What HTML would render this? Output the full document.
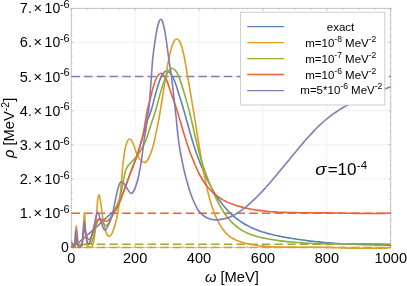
<!DOCTYPE html><html><head><meta charset="utf-8"><title>plot</title>
<style>html,body{margin:0;padding:0;background:#fff}body{width:407px;height:286px;overflow:hidden}svg{display:block;will-change:transform}text{font-family:"Liberation Sans",sans-serif;fill:#000}</style></head><body>
<svg width="407" height="286" viewBox="0 0 407 286">
<rect width="407" height="286" fill="#fff"/>
<path d="M135.1 8.3V247.3M199.0 8.3V247.3M263.0 8.3V247.3M326.9 8.3V247.3M71.2 213.2H390.8M71.2 179.0H390.8M71.2 144.9H390.8M71.2 110.7H390.8M71.2 76.6H390.8M71.2 42.4H390.8" stroke="#efefef" stroke-width="0.8" fill="none"/>
<rect x="71.2" y="8.3" width="319.6" height="239.0" fill="none" stroke="#b0b0b0" stroke-width="0.75"/>
<path d="M71.2 247.3v-2.2M71.2 8.3v2.2M87.2 247.3v-1.3M87.2 8.3v1.3M103.2 247.3v-1.3M103.2 8.3v1.3M119.1 247.3v-1.3M119.1 8.3v1.3M135.1 247.3v-2.2M135.1 8.3v2.2M151.1 247.3v-1.3M151.1 8.3v1.3M167.1 247.3v-1.3M167.1 8.3v1.3M183.1 247.3v-1.3M183.1 8.3v1.3M199.0 247.3v-2.2M199.0 8.3v2.2M215.0 247.3v-1.3M215.0 8.3v1.3M231.0 247.3v-1.3M231.0 8.3v1.3M247.0 247.3v-1.3M247.0 8.3v1.3M263.0 247.3v-2.2M263.0 8.3v2.2M278.9 247.3v-1.3M278.9 8.3v1.3M294.9 247.3v-1.3M294.9 8.3v1.3M310.9 247.3v-1.3M310.9 8.3v1.3M326.9 247.3v-2.2M326.9 8.3v2.2M342.9 247.3v-1.3M342.9 8.3v1.3M358.8 247.3v-1.3M358.8 8.3v1.3M374.8 247.3v-1.3M374.8 8.3v1.3M390.8 247.3v-2.2M390.8 8.3v2.2M71.2 247.3h2.2M390.8 247.3h-2.2M71.2 240.5h1.3M390.8 240.5h-1.3M71.2 233.6h1.3M390.8 233.6h-1.3M71.2 226.8h1.3M390.8 226.8h-1.3M71.2 220.0h1.3M390.8 220.0h-1.3M71.2 213.2h2.2M390.8 213.2h-2.2M71.2 206.3h1.3M390.8 206.3h-1.3M71.2 199.5h1.3M390.8 199.5h-1.3M71.2 192.7h1.3M390.8 192.7h-1.3M71.2 185.8h1.3M390.8 185.8h-1.3M71.2 179.0h2.2M390.8 179.0h-2.2M71.2 172.2h1.3M390.8 172.2h-1.3M71.2 165.4h1.3M390.8 165.4h-1.3M71.2 158.5h1.3M390.8 158.5h-1.3M71.2 151.7h1.3M390.8 151.7h-1.3M71.2 144.9h2.2M390.8 144.9h-2.2M71.2 138.0h1.3M390.8 138.0h-1.3M71.2 131.2h1.3M390.8 131.2h-1.3M71.2 124.4h1.3M390.8 124.4h-1.3M71.2 117.6h1.3M390.8 117.6h-1.3M71.2 110.7h2.2M390.8 110.7h-2.2M71.2 103.9h1.3M390.8 103.9h-1.3M71.2 97.1h1.3M390.8 97.1h-1.3M71.2 90.2h1.3M390.8 90.2h-1.3M71.2 83.4h1.3M390.8 83.4h-1.3M71.2 76.6h2.2M390.8 76.6h-2.2M71.2 69.8h1.3M390.8 69.8h-1.3M71.2 62.9h1.3M390.8 62.9h-1.3M71.2 56.1h1.3M390.8 56.1h-1.3M71.2 49.3h1.3M390.8 49.3h-1.3M71.2 42.4h2.2M390.8 42.4h-2.2M71.2 35.6h1.3M390.8 35.6h-1.3M71.2 28.8h1.3M390.8 28.8h-1.3M71.2 22.0h1.3M390.8 22.0h-1.3M71.2 15.1h1.3M390.8 15.1h-1.3M71.2 8.3h2.2M390.8 8.3h-2.2" stroke="#a8a8a8" stroke-width="0.7" fill="none"/>
<defs><clipPath id="c"><rect x="71.2" y="7.3" width="319.6" height="241.6"/></clipPath></defs>
<g clip-path="url(#c)" fill="none" stroke-width="1.6" stroke-linejoin="round">
<path d="M71.4 76.6H390.8" stroke="#8778B3" stroke-dasharray="8.5 4.2" stroke-width="1.5"/>
<path d="M71.4 213.2H390.8" stroke="#EB6235" stroke-dasharray="8.5 4.2" stroke-width="1.5"/>
<path d="M71.4 244.3H390.8" stroke="#8FB032" stroke-dasharray="8.5 4.2" stroke-width="1.5"/>
<path d="M71.4 247.6H390.8" stroke="#E19C24" stroke-dasharray="8.5 4.2" stroke-width="1.5"/>
<path d="M71.2 247.3C71.7 247.1 73.0 246.6 74.0 246.0C75.0 245.4 75.9 244.8 77.2 243.7C78.5 242.6 80.2 241.1 82.0 239.6C83.8 238.1 86.2 236.0 88.0 234.5C89.8 233.0 91.1 231.9 92.6 230.6C94.1 229.3 95.5 227.9 97.0 226.5C98.5 225.1 100.3 223.3 101.8 221.9C103.3 220.5 104.5 219.4 106.0 218.0C107.5 216.6 109.6 214.9 111.1 213.5C112.6 212.1 113.8 211.1 115.1 209.3C116.4 207.5 117.6 205.5 119.0 202.7C120.4 199.8 122.0 195.5 123.3 192.2C124.6 188.9 125.7 185.8 126.8 182.7C127.9 179.6 129.0 176.6 130.2 173.5C131.4 170.4 132.6 167.3 133.8 164.2C135.0 161.1 136.2 157.8 137.2 154.8C138.2 151.8 139.0 149.2 140.0 146.0C141.0 142.8 142.1 138.7 143.0 135.5C143.9 132.3 144.7 129.8 145.5 127.0C146.3 124.2 147.0 121.8 148.0 119.0C149.0 116.2 150.1 113.8 151.3 110.0C152.5 106.2 153.8 100.3 155.0 96.0C156.2 91.7 157.3 87.5 158.5 84.0C159.7 80.5 160.6 77.2 162.0 75.0C163.4 72.8 165.2 70.9 166.7 70.7C168.2 70.5 169.6 72.1 171.0 74.0C172.4 75.9 173.6 78.3 175.0 82.0C176.4 85.7 178.0 91.1 179.5 96.0C181.0 100.9 182.9 106.9 184.2 111.5C185.5 116.1 186.4 119.6 187.5 123.5C188.6 127.4 189.3 130.2 190.7 135.0C192.1 139.8 194.2 146.8 196.0 152.0C197.8 157.2 199.7 162.0 201.5 166.5C203.3 171.0 205.0 174.9 207.0 179.0C209.0 183.1 212.0 188.6 213.3 191.0C214.6 193.4 214.1 192.2 215.0 193.7C215.9 195.1 217.7 197.9 219.0 199.8C220.3 201.6 221.7 203.4 223.0 205.1C224.3 206.7 225.7 208.3 227.0 209.7C228.3 211.1 229.7 212.5 231.0 213.8C232.3 215.0 233.7 216.2 235.0 217.3C236.3 218.4 237.7 219.4 239.0 220.4C240.3 221.3 241.7 222.2 243.0 223.0C244.3 223.9 245.7 224.6 247.0 225.3C248.3 226.1 249.7 226.7 251.0 227.4C252.3 228.0 253.7 228.6 255.0 229.2C256.3 229.7 257.7 230.2 259.0 230.7C260.3 231.2 261.7 231.6 263.0 232.1C264.3 232.5 265.7 232.9 267.0 233.2C268.3 233.6 269.7 234.0 271.0 234.3C272.3 234.6 273.7 234.9 275.0 235.2C276.3 235.6 277.7 235.8 279.0 236.1C280.3 236.4 281.7 236.6 283.0 236.9C284.3 237.1 285.7 237.4 287.0 237.6C288.3 237.8 289.7 238.0 291.0 238.2C292.3 238.5 293.7 238.7 295.0 238.9C296.3 239.1 297.7 239.3 299.0 239.5C300.3 239.7 301.7 239.8 303.0 240.0C304.3 240.2 305.7 240.4 307.0 240.6C308.3 240.7 309.7 240.9 311.0 241.1C312.3 241.2 313.7 241.4 315.0 241.5C316.3 241.7 317.7 241.8 319.0 241.9C320.3 242.1 321.7 242.2 323.0 242.3C324.3 242.5 325.7 242.6 327.0 242.7C328.3 242.8 329.7 242.9 331.0 243.0C332.3 243.1 333.7 243.2 335.0 243.3C336.3 243.4 337.7 243.5 339.0 243.6C340.3 243.7 341.7 243.7 343.0 243.8C344.3 243.9 345.7 244.0 347.0 244.0C348.3 244.1 349.7 244.1 351.0 244.2C352.3 244.3 353.7 244.3 355.0 244.3C356.3 244.4 357.7 244.4 359.0 244.5C360.3 244.5 361.7 244.6 363.0 244.6C364.3 244.6 365.7 244.7 367.0 244.7C368.3 244.7 369.7 244.8 371.0 244.8C372.3 244.8 373.7 244.8 375.0 244.9C376.3 244.9 377.7 244.9 379.0 244.9C380.3 245.0 381.7 245.0 383.0 245.0C384.3 245.1 385.7 245.1 387.0 245.1C388.3 245.2 390.2 245.2 390.8 245.2" stroke="#5E81B5"/>
<path d="M71.2 247.2C71.6 247.2 73.0 247.7 73.6 247.1C74.2 246.5 74.3 246.0 74.6 243.5C74.9 241.0 75.2 234.9 75.5 232.0C75.8 229.1 76.0 225.8 76.3 225.8C76.6 225.8 76.8 229.1 77.1 232.0C77.4 234.9 77.7 241.0 78.0 243.5C78.3 246.0 78.5 246.4 79.0 247.0C79.5 247.6 80.7 247.5 81.2 247.1C81.8 246.7 82.0 247.2 82.3 244.5C82.6 241.8 82.9 236.2 83.3 231.0C83.7 225.8 84.0 213.2 84.4 213.0C84.8 212.8 85.1 225.0 85.5 230.0C85.9 235.0 86.3 240.2 86.8 243.0C87.3 245.8 87.8 246.1 88.4 246.8C89.0 247.5 89.7 247.5 90.5 247.1C91.3 246.7 92.2 247.7 93.0 244.5C93.8 241.3 94.8 234.8 95.5 228.0C96.2 221.2 96.8 209.5 97.3 204.0C97.8 198.5 98.3 195.5 98.8 195.0C99.3 194.5 99.8 197.0 100.5 201.0C101.2 205.0 102.1 213.8 103.0 219.0C103.9 224.2 105.0 229.1 106.0 232.0C107.0 234.9 107.9 236.1 108.9 236.3C109.9 236.6 111.0 235.4 112.0 233.5C113.0 231.6 114.0 228.4 115.0 225.0C116.0 221.6 117.0 217.8 117.8 213.0C118.6 208.2 119.4 201.2 120.0 196.0C120.6 190.8 121.0 187.0 121.5 181.7C122.0 176.4 122.4 169.4 123.0 164.0C123.6 158.6 124.2 153.3 125.0 149.5C125.8 145.7 126.7 142.8 127.5 141.0C128.3 139.2 129.0 138.8 129.8 139.0C130.6 139.2 131.4 139.7 132.5 142.0C133.6 144.3 135.1 149.8 136.3 152.7C137.6 155.6 138.6 157.9 140.0 159.5C141.4 161.1 143.2 162.5 144.5 162.5C145.8 162.5 146.8 161.6 148.0 159.5C149.2 157.4 150.8 153.4 152.0 149.8C153.2 146.2 154.1 142.1 155.0 138.0C155.9 133.9 156.7 129.9 157.6 125.5C158.5 121.1 159.4 116.3 160.2 111.5C161.0 106.7 161.8 101.6 162.6 96.5C163.4 91.4 163.9 87.4 165.0 81.0C166.1 74.6 167.8 63.8 169.0 58.0C170.2 52.2 171.1 48.9 172.0 46.0C172.9 43.1 173.7 41.7 174.5 40.5C175.3 39.3 176.3 38.9 177.1 39.0C177.9 39.1 178.7 39.6 179.5 41.0C180.3 42.4 181.2 44.7 182.0 47.5C182.8 50.3 183.5 52.8 184.5 58.0C185.5 63.2 186.9 72.2 188.0 78.5C189.1 84.8 190.1 90.5 191.0 96.0C191.9 101.5 192.5 104.8 193.6 111.5C194.7 118.2 196.4 129.4 197.5 136.0C198.6 142.6 199.2 146.0 200.0 151.0C200.8 156.0 201.7 161.2 202.6 166.0C203.5 170.8 204.4 175.7 205.3 180.0C206.2 184.3 207.1 188.7 207.9 192.0C208.7 195.3 209.2 197.3 210.0 200.0C210.8 202.7 211.7 205.6 212.5 208.0C213.3 210.4 213.9 212.1 215.0 214.7C216.1 217.2 217.7 220.8 219.0 223.2C220.3 225.7 221.7 227.7 223.0 229.5C224.3 231.3 225.7 232.8 227.0 234.1C228.3 235.4 229.7 236.4 231.0 237.3C232.3 238.3 233.7 239.0 235.0 239.6C236.3 240.3 237.7 240.8 239.0 241.3C240.3 241.8 241.7 242.2 243.0 242.6C244.3 243.0 245.7 243.3 247.0 243.6C248.3 243.9 249.7 244.2 251.0 244.4C252.3 244.7 253.7 244.9 255.0 245.1C256.3 245.3 257.7 245.5 259.0 245.7C260.3 245.9 261.7 246.0 263.0 246.1C264.3 246.2 265.7 246.4 267.0 246.4C268.3 246.5 269.7 246.6 271.0 246.7C272.3 246.8 273.7 246.8 275.0 246.9C276.3 246.9 277.7 247.0 279.0 247.0C280.3 247.0 281.7 247.1 283.0 247.1C284.3 247.1 285.7 247.1 287.0 247.1C288.3 247.1 289.7 247.1 291.0 247.1C292.3 247.1 293.7 247.1 295.0 247.2C296.3 247.2 297.7 247.1 299.0 247.2C300.3 247.2 301.7 247.2 303.0 247.2C304.3 247.2 305.7 247.2 307.0 247.2C308.3 247.2 309.7 247.2 311.0 247.2C312.3 247.2 313.7 247.2 315.0 247.2C316.3 247.2 317.7 247.2 319.0 247.3C320.3 247.3 321.7 247.3 323.0 247.3C324.3 247.4 325.7 247.4 327.0 247.4C328.3 247.5 329.7 247.5 331.0 247.5C332.3 247.6 333.7 247.6 335.0 247.7C336.3 247.7 337.7 247.8 339.0 247.8C340.3 247.8 341.7 247.9 343.0 247.9C344.3 248.0 345.7 248.0 347.0 248.1C348.3 248.2 349.7 248.2 351.0 248.2C352.3 248.3 353.7 248.3 355.0 248.4C356.3 248.4 357.7 248.5 359.0 248.5C360.3 248.5 361.7 248.6 363.0 248.6C364.3 248.6 365.7 248.7 367.0 248.7C368.3 248.7 369.7 248.7 371.0 248.7C372.3 248.7 373.7 248.7 375.0 248.6C376.3 248.6 377.7 248.5 379.0 248.5C380.3 248.4 381.7 248.4 383.0 248.3C384.3 248.2 385.7 248.1 387.0 247.9C388.3 247.8 390.2 247.6 390.8 247.5" stroke="#E19C24"/>
<path d="M71.2 244.4C72.7 244.4 77.2 244.4 80.0 244.4C82.8 244.4 86.2 244.6 88.0 244.4C89.8 244.2 90.1 244.7 91.0 243.5C91.9 242.3 92.7 240.1 93.5 237.0C94.3 233.9 95.2 227.9 96.0 225.0C96.8 222.1 97.7 220.1 98.6 219.5C99.5 218.9 100.3 220.5 101.5 221.5C102.7 222.5 104.3 225.3 105.6 225.6C106.8 225.8 107.9 224.5 109.0 223.0C110.1 221.5 111.0 218.8 112.0 216.5C113.0 214.2 114.1 211.8 115.1 209.5C116.1 207.2 117.0 205.8 118.0 203.0C119.0 200.2 120.1 196.7 121.0 193.0C121.9 189.3 122.5 184.7 123.3 181.0C124.0 177.3 124.7 173.5 125.5 171.0C126.3 168.5 127.1 167.2 128.0 165.8C128.9 164.4 130.1 163.5 131.0 162.5C131.9 161.5 132.5 160.9 133.3 160.0C134.1 159.1 135.2 158.1 136.0 157.2C136.8 156.3 137.3 156.0 138.2 154.6C139.1 153.2 140.3 151.2 141.5 149.0C142.7 146.8 144.3 144.1 145.4 141.6C146.5 139.1 147.1 136.8 148.0 134.0C148.9 131.2 149.8 128.3 151.0 124.5C152.2 120.7 154.2 115.4 155.5 111.0C156.8 106.6 157.8 102.2 159.0 98.0C160.2 93.8 161.3 89.7 162.5 86.0C163.7 82.3 164.9 78.6 166.0 76.0C167.1 73.4 168.0 71.8 169.0 70.5C170.0 69.2 171.1 68.2 172.2 68.2C173.3 68.2 174.4 69.0 175.5 70.5C176.6 72.0 177.8 73.9 179.0 77.0C180.2 80.1 181.8 85.0 183.0 89.0C184.2 93.0 185.5 97.4 186.5 101.0C187.5 104.6 188.2 106.9 189.1 110.5C190.0 114.1 191.1 118.5 192.0 122.5C192.9 126.5 193.9 130.9 194.7 134.5C195.5 138.1 196.3 141.1 197.0 144.0C197.7 146.9 198.2 148.9 199.0 152.0C199.8 155.1 201.0 159.2 202.0 162.5C203.0 165.8 203.8 168.2 205.0 171.5C206.2 174.8 207.7 178.7 209.0 182.0C210.3 185.3 212.0 189.2 213.0 191.5C214.0 193.8 214.0 194.0 215.0 196.1C216.0 198.2 217.7 201.6 219.0 204.1C220.3 206.6 221.7 208.9 223.0 211.0C224.3 213.1 225.7 215.0 227.0 216.7C228.3 218.5 229.7 220.0 231.0 221.4C232.3 222.8 233.7 224.1 235.0 225.2C236.3 226.4 237.7 227.4 239.0 228.4C240.3 229.3 241.7 230.1 243.0 230.9C244.3 231.6 245.7 232.3 247.0 232.9C248.3 233.5 249.7 234.0 251.0 234.5C252.3 235.0 253.7 235.5 255.0 235.9C256.3 236.3 257.7 236.6 259.0 237.0C260.3 237.3 261.7 237.6 263.0 237.9C264.3 238.2 265.7 238.4 267.0 238.7C268.3 238.9 269.7 239.2 271.0 239.4C272.3 239.6 273.7 239.8 275.0 240.0C276.3 240.2 277.7 240.4 279.0 240.6C280.3 240.8 281.7 240.9 283.0 241.1C284.3 241.3 285.7 241.4 287.0 241.6C288.3 241.7 289.7 241.8 291.0 242.0C292.3 242.1 293.7 242.2 295.0 242.3C296.3 242.4 297.7 242.6 299.0 242.7C300.3 242.7 301.7 242.8 303.0 242.9C304.3 243.0 305.7 243.1 307.0 243.2C308.3 243.2 309.7 243.3 311.0 243.3C312.3 243.4 313.7 243.5 315.0 243.5C316.3 243.5 317.7 243.6 319.0 243.6C320.3 243.7 321.7 243.7 323.0 243.7C324.3 243.8 325.7 243.8 327.0 243.8C328.3 243.8 329.7 243.8 331.0 243.8C332.3 243.9 333.7 243.9 335.0 243.9C336.3 243.9 337.7 243.9 339.0 243.9C340.3 243.9 341.7 243.9 343.0 243.9C344.3 243.9 345.7 243.9 347.0 243.9C348.3 243.9 349.7 243.9 351.0 243.9C352.3 243.9 353.7 243.9 355.0 243.9C356.3 243.9 357.7 243.9 359.0 243.9C360.3 243.9 361.7 243.9 363.0 243.8C364.3 243.8 365.7 243.8 367.0 243.8C368.3 243.9 369.7 243.9 371.0 243.9C372.3 243.9 373.7 243.9 375.0 243.9C376.3 243.9 377.7 243.9 379.0 243.9C380.3 243.9 381.7 244.0 383.0 244.0C384.3 244.0 385.7 244.1 387.0 244.1C388.3 244.1 390.2 244.2 390.8 244.2" stroke="#8FB032"/>
<path d="M71.2 246.8C71.8 246.8 73.8 247.6 74.5 246.8C75.2 246.0 75.2 243.4 75.5 242.0C75.8 240.6 76.0 238.5 76.2 238.5C76.5 238.5 76.7 240.8 77.0 242.0C77.3 243.2 77.5 245.2 78.0 246.0C78.5 246.8 79.3 247.1 80.0 246.8C80.7 246.5 81.5 245.8 82.0 244.0C82.5 242.2 82.8 238.6 83.2 236.0C83.6 233.4 83.9 229.2 84.2 228.5C84.5 227.8 84.9 230.7 85.3 232.0C85.7 233.3 86.2 235.2 86.8 236.5C87.3 237.8 88.0 239.2 88.6 239.5C89.2 239.8 89.8 239.6 90.5 238.5C91.2 237.4 92.1 235.4 93.0 233.0C93.9 230.6 95.0 226.3 96.0 224.0C97.0 221.7 97.8 219.7 98.8 219.0C99.8 218.3 100.7 219.2 102.0 219.6C103.3 220.0 105.2 221.5 106.5 221.3C107.8 221.1 108.6 220.1 110.0 218.5C111.4 216.9 113.2 214.4 114.7 212.0C116.2 209.6 117.5 207.3 119.0 204.0C120.5 200.7 122.2 195.6 123.5 192.0C124.8 188.4 125.8 185.6 127.0 182.5C128.2 179.4 129.2 176.4 130.4 173.3C131.6 170.2 132.8 167.1 134.0 164.0C135.2 160.9 136.3 157.7 137.3 154.7C138.3 151.7 139.0 149.4 140.0 146.0C141.0 142.6 142.0 140.0 143.2 134.0C144.4 128.0 146.3 115.7 147.4 110.0C148.5 104.3 149.1 103.7 150.0 100.0C150.9 96.3 152.0 91.5 153.0 88.0C154.0 84.5 154.7 81.5 156.0 79.0C157.3 76.5 159.3 73.3 161.0 73.3C162.7 73.3 164.5 76.2 166.0 79.0C167.5 81.8 168.8 86.5 170.0 90.0C171.2 93.5 172.3 96.7 173.5 100.0C174.7 103.3 175.8 106.3 177.0 110.0C178.2 113.7 179.2 117.7 180.5 122.0C181.8 126.3 183.1 131.0 184.6 135.8C186.1 140.6 187.8 146.3 189.5 151.0C191.2 155.7 193.1 159.9 194.8 164.0C196.6 168.1 198.1 172.0 200.0 175.5C201.9 179.0 203.9 182.2 206.0 185.0C208.1 187.8 210.8 190.4 212.3 192.0C213.8 193.6 213.9 193.5 215.0 194.4C216.1 195.3 217.7 196.5 219.0 197.4C220.3 198.3 221.7 199.1 223.0 199.9C224.3 200.6 225.7 201.3 227.0 201.9C228.3 202.6 229.7 203.1 231.0 203.6C232.3 204.2 233.7 204.6 235.0 205.1C236.3 205.5 237.7 205.9 239.0 206.3C240.3 206.7 241.7 207.1 243.0 207.4C244.3 207.7 245.7 208.1 247.0 208.3C248.3 208.6 249.7 208.9 251.0 209.2C252.3 209.4 253.7 209.6 255.0 209.9C256.3 210.1 257.7 210.3 259.0 210.4C260.3 210.6 261.7 210.8 263.0 210.9C264.3 211.1 265.7 211.2 267.0 211.3C268.3 211.5 269.7 211.6 271.0 211.7C272.3 211.8 273.7 211.9 275.0 211.9C276.3 212.0 277.7 212.1 279.0 212.2C280.3 212.2 281.7 212.3 283.0 212.3C284.3 212.4 285.7 212.4 287.0 212.5C288.3 212.5 289.7 212.5 291.0 212.6C292.3 212.6 293.7 212.6 295.0 212.6C296.3 212.7 297.7 212.7 299.0 212.7C300.3 212.7 301.7 212.7 303.0 212.7C304.3 212.8 305.7 212.8 307.0 212.8C308.3 212.8 309.7 212.8 311.0 212.8C312.3 212.8 313.7 212.8 315.0 212.8C316.3 212.8 317.7 212.9 319.0 212.9C320.3 212.9 321.7 212.9 323.0 212.9C324.3 212.9 325.7 212.9 327.0 212.9C328.3 213.0 329.7 213.0 331.0 213.0C332.3 213.0 333.7 213.0 335.0 213.0C336.3 213.0 337.7 213.1 339.0 213.1C340.3 213.1 341.7 213.1 343.0 213.2C344.3 213.2 345.7 213.2 347.0 213.2C348.3 213.2 349.7 213.3 351.0 213.3C352.3 213.3 353.7 213.3 355.0 213.4C356.3 213.4 357.7 213.4 359.0 213.4C360.3 213.4 361.7 213.5 363.0 213.5C364.3 213.5 365.7 213.5 367.0 213.5C368.3 213.5 369.7 213.5 371.0 213.5C372.3 213.5 373.7 213.5 375.0 213.5C376.3 213.5 377.7 213.5 379.0 213.5C380.3 213.5 381.7 213.5 383.0 213.4C384.3 213.4 385.7 213.4 387.0 213.3C388.3 213.3 390.2 213.2 390.8 213.1" stroke="#EB6235"/>
<path d="M71.2 241.5C71.4 241.8 71.8 242.7 72.2 243.5C72.6 244.3 73.0 246.2 73.4 246.5C73.8 246.8 74.1 246.9 74.4 245.5C74.7 244.1 75.0 240.6 75.3 238.0C75.6 235.4 75.9 230.0 76.2 230.0C76.5 230.0 76.8 235.5 77.1 238.0C77.4 240.5 77.7 243.6 78.1 245.0C78.5 246.4 79.0 246.4 79.5 246.5C80.0 246.6 80.9 246.8 81.4 245.5C81.9 244.2 82.2 241.8 82.5 239.0C82.8 236.2 83.0 231.9 83.3 229.0C83.6 226.1 83.9 221.5 84.2 221.4C84.5 221.3 84.9 225.8 85.2 228.5C85.5 231.2 85.9 235.2 86.3 237.5C86.7 239.8 87.1 241.5 87.5 242.5C87.9 243.5 88.2 243.8 88.6 243.7C89.0 243.6 89.5 243.3 90.0 242.0C90.5 240.7 90.9 238.4 91.6 235.7C92.3 233.0 93.1 229.9 94.0 226.0C94.9 222.1 96.2 213.8 97.2 212.5C98.2 211.2 99.0 215.5 100.0 218.0C101.0 220.5 102.2 225.4 103.0 227.5C103.8 229.6 104.2 230.6 105.0 230.3C105.8 230.1 107.1 227.8 108.0 226.0C108.9 224.2 109.7 221.9 110.5 219.5C111.3 217.1 112.0 215.8 113.0 211.6C114.0 207.3 115.6 198.3 116.6 194.0C117.5 189.7 118.0 188.1 118.7 186.0C119.4 183.9 120.2 182.2 121.0 181.7C121.8 181.2 122.5 181.9 123.5 183.0C124.5 184.1 125.8 186.8 127.0 188.5C128.2 190.2 129.8 193.2 131.0 193.5C132.2 193.8 133.1 192.0 134.0 190.5C134.9 189.0 135.6 186.8 136.3 184.5C137.1 182.2 137.7 180.4 138.5 176.5C139.3 172.6 140.5 167.1 141.4 161.0C142.3 154.9 143.4 145.2 144.1 140.0C144.8 134.8 145.2 134.2 145.8 130.0C146.4 125.8 147.2 119.0 147.8 115.0C148.4 111.0 148.7 111.5 149.2 106.0C149.7 100.5 150.4 90.0 151.0 82.0C151.6 74.0 152.1 64.9 152.8 58.0C153.5 51.1 154.3 45.7 155.1 40.5C155.9 35.3 156.8 30.2 157.5 27.0C158.2 23.8 158.8 22.3 159.3 21.0C159.9 19.7 160.3 19.3 160.8 19.3C161.3 19.3 161.8 19.7 162.3 21.0C162.8 22.3 163.3 23.8 164.0 27.0C164.7 30.2 165.5 35.3 166.3 40.5C167.1 45.7 167.8 51.8 168.7 58.0C169.6 64.2 170.6 69.9 171.6 77.6C172.6 85.3 173.9 97.6 174.6 104.0C175.3 110.4 175.4 110.7 176.0 116.0C176.6 121.3 177.3 130.3 178.0 136.0C178.7 141.7 179.2 145.5 180.0 150.0C180.8 154.5 181.5 158.3 182.5 163.0C183.5 167.7 184.7 173.2 186.0 178.0C187.3 182.8 188.8 188.0 190.1 192.0C191.4 196.0 192.6 198.9 194.0 202.0C195.4 205.1 196.9 208.4 198.6 210.7C200.3 213.0 202.1 214.6 204.0 216.0C205.9 217.4 207.8 218.3 210.0 219.0C212.2 219.7 214.6 220.0 217.3 219.9C220.0 219.8 223.9 218.9 226.0 218.4C228.1 217.9 228.7 217.5 230.0 216.9C231.3 216.4 232.7 215.7 234.0 215.0C235.3 214.3 236.7 213.5 238.0 212.6C239.3 211.8 240.7 210.8 242.0 209.8C243.3 208.9 244.7 207.8 246.0 206.8C247.3 205.7 248.7 204.5 250.0 203.3C251.3 202.2 252.7 200.9 254.0 199.7C255.3 198.4 256.7 197.1 258.0 195.7C259.3 194.4 260.7 193.0 262.0 191.6C263.3 190.1 264.7 188.7 266.0 187.2C267.3 185.7 268.7 184.2 270.0 182.7C271.3 181.2 272.7 179.6 274.0 178.0C275.3 176.5 276.7 174.9 278.0 173.3C279.3 171.7 280.7 170.1 282.0 168.4C283.3 166.8 284.7 165.2 286.0 163.6C287.3 161.9 288.7 160.3 290.0 158.7C291.3 157.0 292.7 155.4 294.0 153.8C295.3 152.2 296.7 150.6 298.0 149.0C299.3 147.4 300.7 145.8 302.0 144.2C303.3 142.7 304.7 141.2 306.0 139.6C307.3 138.1 308.7 136.6 310.0 135.2C311.3 133.7 312.7 132.3 314.0 130.9C315.3 129.5 316.7 128.1 318.0 126.8C319.3 125.5 320.7 124.3 322.0 123.0C323.3 121.8 324.7 120.6 326.0 119.5C327.3 118.4 328.7 117.3 330.0 116.3C331.3 115.3 332.7 114.3 334.0 113.4C335.3 112.4 336.7 111.5 338.0 110.7C339.3 109.8 340.7 109.0 342.0 108.2C343.3 107.4 344.7 106.7 346.0 105.9C347.3 105.2 348.7 104.5 350.0 103.8C351.3 103.1 352.7 102.5 354.0 101.8C355.3 101.2 356.7 100.5 358.0 99.9C359.3 99.3 360.7 98.7 362.0 98.1C363.3 97.6 364.7 97.0 366.0 96.4C367.3 95.9 368.7 95.3 370.0 94.8C371.3 94.2 372.7 93.7 374.0 93.2C375.3 92.6 376.7 92.1 378.0 91.6C379.3 91.1 380.7 90.6 382.0 90.0C383.3 89.5 384.7 89.0 386.0 88.5C387.3 88.0 389.2 87.3 390.0 87.0C390.8 86.7 390.7 86.8 390.8 86.7" stroke="#8778B3"/>
</g>
<g transform="translate(19.8 218.2)  scale(1.040 1)"><text font-size="14">1.</text></g>
<g transform="translate(33.6 218.2)  scale(1.040 1)"><text font-size="14">×</text></g>
<g transform="translate(44.6 218.2)  scale(1.000 1)"><text font-size="14">10</text></g>
<g transform="translate(59.9 212.8)  scale(1.100 1)"><text font-size="10">-6</text></g>
<g transform="translate(19.8 184.0)  scale(1.040 1)"><text font-size="14">2.</text></g>
<g transform="translate(33.6 184.0)  scale(1.040 1)"><text font-size="14">×</text></g>
<g transform="translate(44.6 184.0)  scale(1.000 1)"><text font-size="14">10</text></g>
<g transform="translate(59.9 178.6)  scale(1.100 1)"><text font-size="10">-6</text></g>
<g transform="translate(19.8 149.9)  scale(1.040 1)"><text font-size="14">3.</text></g>
<g transform="translate(33.6 149.9)  scale(1.040 1)"><text font-size="14">×</text></g>
<g transform="translate(44.6 149.9)  scale(1.000 1)"><text font-size="14">10</text></g>
<g transform="translate(59.9 144.5)  scale(1.100 1)"><text font-size="10">-6</text></g>
<g transform="translate(19.8 115.7)  scale(1.040 1)"><text font-size="14">4.</text></g>
<g transform="translate(33.6 115.7)  scale(1.040 1)"><text font-size="14">×</text></g>
<g transform="translate(44.6 115.7)  scale(1.000 1)"><text font-size="14">10</text></g>
<g transform="translate(59.9 110.3)  scale(1.100 1)"><text font-size="10">-6</text></g>
<g transform="translate(19.8 81.6)  scale(1.040 1)"><text font-size="14">5.</text></g>
<g transform="translate(33.6 81.6)  scale(1.040 1)"><text font-size="14">×</text></g>
<g transform="translate(44.6 81.6)  scale(1.000 1)"><text font-size="14">10</text></g>
<g transform="translate(59.9 76.2)  scale(1.100 1)"><text font-size="10">-6</text></g>
<g transform="translate(19.8 47.4)  scale(1.040 1)"><text font-size="14">6.</text></g>
<g transform="translate(33.6 47.4)  scale(1.040 1)"><text font-size="14">×</text></g>
<g transform="translate(44.6 47.4)  scale(1.000 1)"><text font-size="14">10</text></g>
<g transform="translate(59.9 42.0)  scale(1.100 1)"><text font-size="10">-6</text></g>
<g transform="translate(19.8 13.3)  scale(1.040 1)"><text font-size="14">7.</text></g>
<g transform="translate(33.6 13.3)  scale(1.040 1)"><text font-size="14">×</text></g>
<g transform="translate(44.6 13.3)  scale(1.000 1)"><text font-size="14">10</text></g>
<g transform="translate(59.9 7.9)  scale(1.100 1)"><text font-size="10">-6</text></g>
<g transform="translate(60.9 251.9)  scale(1.000 1)"><text font-size="14">0</text></g>
<g transform="translate(71.2 263.1)  scale(1.040 1)"><text font-size="14" text-anchor="middle">0</text></g>
<g transform="translate(135.1 263.1)  scale(1.040 1)"><text font-size="14" text-anchor="middle">200</text></g>
<g transform="translate(199.0 263.1)  scale(1.040 1)"><text font-size="14" text-anchor="middle">400</text></g>
<g transform="translate(263.0 263.1)  scale(1.040 1)"><text font-size="14" text-anchor="middle">600</text></g>
<g transform="translate(326.9 263.1)  scale(1.040 1)"><text font-size="14" text-anchor="middle">800</text></g>
<g transform="translate(390.8 263.1)  scale(1.040 1)"><text font-size="14" text-anchor="middle">1000</text></g>
<g transform="translate(205.0 282.3)  scale(1.050 1)"><text font-size="14"><tspan font-style="italic">ω</tspan> [MeV]</text></g>
<g transform="translate(14.3 158.0) rotate(-90) scale(1.050 1)"><text font-size="14" x="0" y="0"><tspan font-style="italic">ρ</tspan> [MeV<tspan dy="-5.6" font-size="10">-2</tspan><tspan dy="5.6">]</tspan></text></g>
<g transform="translate(315.3 175.3)  scale(1.080 1)"><text font-size="17" font-style="italic">σ</text></g>
<g transform="translate(327.8 175.3)  scale(1.000 1)"><text font-size="17">=</text></g>
<g transform="translate(337.6 175.3)  scale(1.000 1)"><text font-size="17">10</text></g>
<g transform="translate(356.8 168.6)  scale(1.050 1)"><text font-size="11">-4</text></g>
<rect x="240.6" y="12.2" width="144.2" height="92.8" fill="#fff" stroke="#c8c8c8" stroke-width="0.9"/>
<path d="M247.2 26.6H284" stroke="#5E81B5" stroke-width="1.3"/>
<text font-size="11.5" x="340.5" y="30.5" text-anchor="middle">exact</text>
<path d="M247.2 42.6H284" stroke="#E19C24" stroke-width="1.3"/>
<text font-size="11.5" x="340.8" y="46.7" text-anchor="middle">m=10<tspan dy="-5" font-size="8.5">-8</tspan><tspan dy="5"> MeV</tspan><tspan dy="-5" font-size="8.5">-2</tspan></text>
<path d="M247.2 58.6H284" stroke="#8FB032" stroke-width="1.3"/>
<text font-size="11.5" x="340.8" y="62.6" text-anchor="middle">m=10<tspan dy="-5" font-size="8.5">-7</tspan><tspan dy="5"> MeV</tspan><tspan dy="-5" font-size="8.5">-2</tspan></text>
<path d="M247.2 74.5H284" stroke="#EB6235" stroke-width="1.3"/>
<text font-size="11.5" x="340.8" y="78.5" text-anchor="middle">m=10<tspan dy="-5" font-size="8.5">-6</tspan><tspan dy="5"> MeV</tspan><tspan dy="-5" font-size="8.5">-2</tspan></text>
<path d="M247.2 90.6H284" stroke="#8778B3" stroke-width="1.3"/>
<text font-size="11.5" x="341.3" y="94.2" text-anchor="middle">m=5*10<tspan dy="-5" font-size="8.5">-6</tspan><tspan dy="5"> MeV</tspan><tspan dy="-5" font-size="8.5">-2</tspan></text>
</svg></body></html>
